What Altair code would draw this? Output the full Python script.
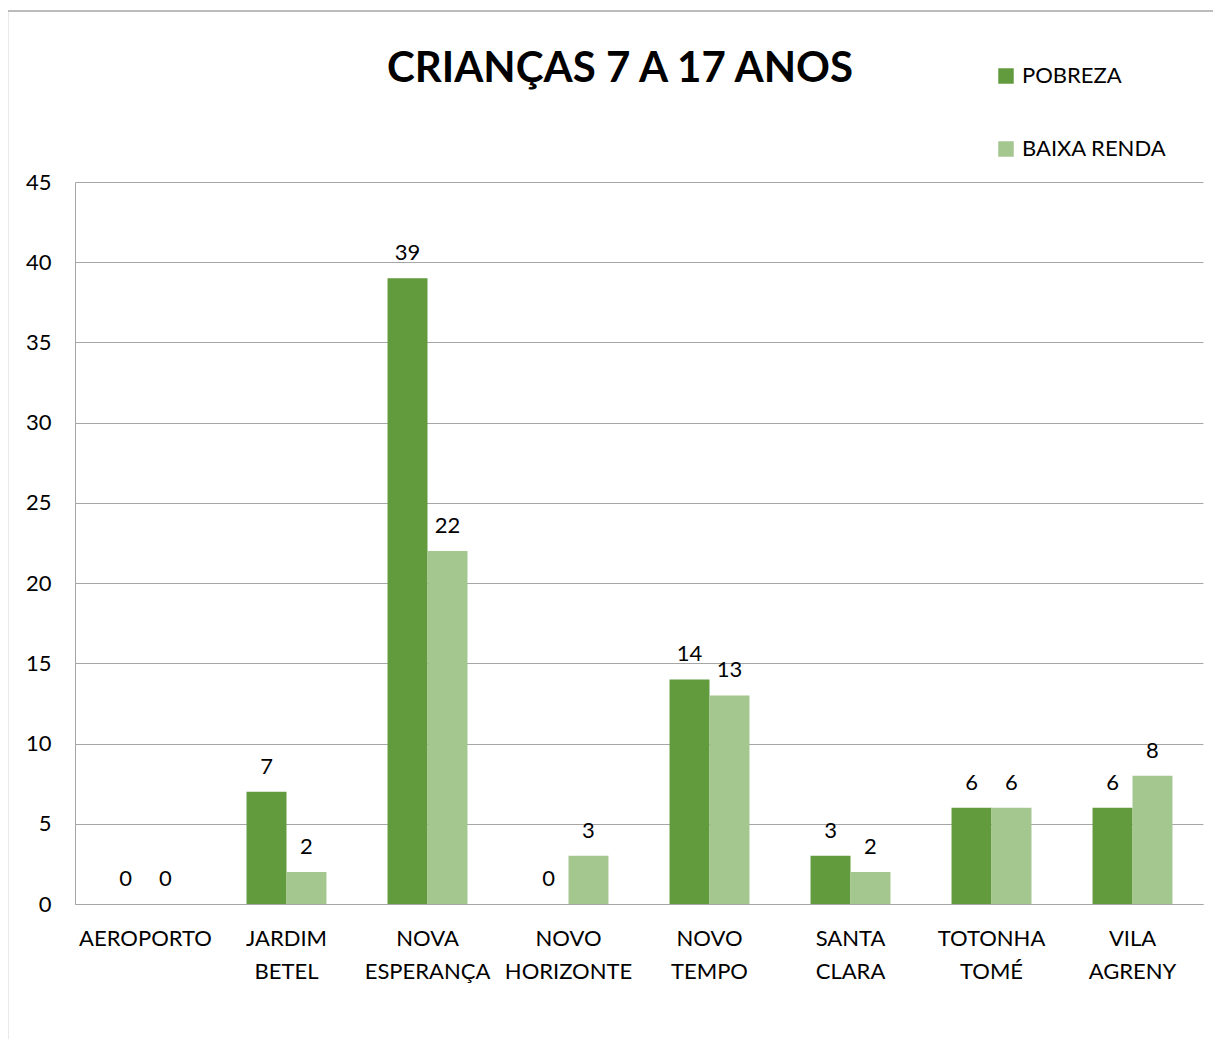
import altair as alt
import pandas as pd

categories = ["AEROPORTO", "JARDIM BETEL", "NOVA ESPERANÇA", "NOVO HORIZONTE",
              "NOVO TEMPO", "SANTA CLARA", "TOTONHA TOMÉ", "VILA AGRENY"]
series = ["POBREZA", "BAIXA RENDA"]
pobreza = [0, 7, 39, 0, 14, 3, 6, 6]
baixa_renda = [0, 2, 22, 3, 13, 2, 6, 8]
colors = ["#629B3E", "#A4C68F"]
y_ticks = [0, 5, 10, 15, 20, 25, 30, 35, 40, 45]
title_text = "CRIANÇAS 7 A 17 ANOS"

rows = []
for c, p, b in zip(categories, pobreza, baixa_renda):
    rows.append({"cat": c, "serie": series[0], "valor": p})
    rows.append({"cat": c, "serie": series[1], "valor": b})
df = pd.DataFrame(rows)

FONT = "Lato"
FS = 22

x = alt.X("cat:N", sort=categories, title=None,
          scale=alt.Scale(paddingInner=0.433, paddingOuter=0.2165),
          axis=alt.Axis(labelAngle=0, labelFontSize=FS, labelFont=FONT, labelColor="#000000",
                        labelExpr="split(datum.label, ' ')", labelLineHeight=33,
                        labelPadding=24, ticks=False, domainColor="#a6a6a6",
                        labelBaseline="top"))
y = alt.Y("valor:Q", title=None,
          scale=alt.Scale(domain=[0, 45], nice=False),
          axis=alt.Axis(values=y_ticks, labelFontSize=FS, labelFont=FONT, labelColor="#000000",
                        labelPadding=24, ticks=False, domainColor="#a6a6a6",
                        gridColor="#a6a6a6", grid=True))

bars = alt.Chart(df).mark_bar().encode(
    x=x, y=y,
    xOffset=alt.XOffset("serie:N", sort=series),
    color=alt.Color("serie:N", sort=series,
                    scale=alt.Scale(domain=series, range=colors),
                    legend=alt.Legend(title=None, orient="none", legendX=920, legendY=-117,
                                      symbolType="square", symbolSize=240, labelFontSize=FS,
                                      labelFont=FONT, labelColor="#000000", rowPadding=51,
                                      symbolStrokeWidth=0, labelOffset=5)),
)

labels = alt.Chart(df).mark_text(fontSize=FS, font=FONT, color="#000000",
                                 baseline="bottom", dy=-13).encode(
    x=alt.X("cat:N", sort=categories),
    xOffset=alt.XOffset("serie:N", sort=series),
    y="valor:Q",
    text="valor:Q",
)

frame = alt.Chart(pd.DataFrame({"a": [0]})).mark_rect(
    fill=None, stroke="#a6a6a6", strokeWidth=1.5).encode(
    x=alt.value(-67.5), x2=alt.value(1300), y=alt.value(-171), y2=alt.value(1100))

title = alt.Chart(pd.DataFrame({"t": [title_text]})).mark_text(
    fontSize=42, font=FONT, fontWeight="bold", color="#000000",
    align="center", baseline="alphabetic").encode(
    text="t:N", x=alt.value(545), y=alt.value(-100))

chart = alt.layer(frame, bars, labels, title).properties(
    width=1128, height=722,
    padding={"left": 67, "top": 174, "right": 10, "bottom": 150},
    autosize=alt.AutoSizeParams(type="none"),
).configure_view(stroke=None)

chart.save("out.html", embed_options={"renderer": "svg", "actions": False})
